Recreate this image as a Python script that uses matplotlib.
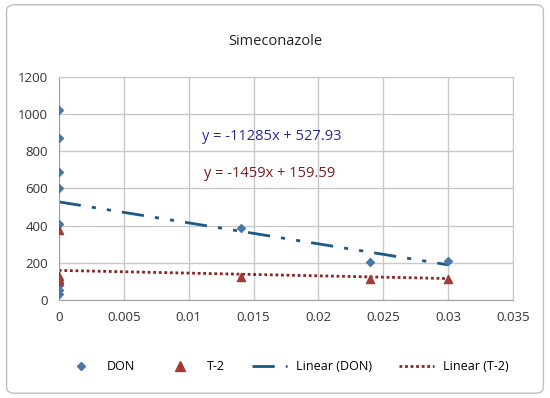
import matplotlib
matplotlib.use("Agg")
import matplotlib.pyplot as plt
from matplotlib.patches import FancyBboxPatch
from matplotlib.lines import Line2D
import numpy as np

plt.rcParams['font.family'] = ['Open Sans', 'DejaVu Sans']

don_x = [0, 0, 0, 0, 0, 0, 0, 0, 0.014, 0.024, 0.030]
don_y = [1020, 870, 690, 605, 410, 80, 55, 35, 385, 205, 212]
t2_x = [0, 0, 0, 0, 0.014, 0.024, 0.030]
t2_y = [375, 130, 115, 100, 124, 114, 114]
don_fit = (-11285, 527.93)
t2_fit = (-1459, 159.59)
fit_range = [0, 0.030]
x_ticks = [0, 0.005, 0.01, 0.015, 0.02, 0.025, 0.03, 0.035]
x_labels = ["0", "0.005", "0.01", "0.015", "0.02", "0.025", "0.03", "0.035"]
y_ticks = [0, 200, 400, 600, 800, 1000, 1200]

fig = plt.figure(figsize=(5.5, 3.98), dpi=100)
fig.patches.append(FancyBboxPatch((0.012, 0.012), 0.976, 0.976, boxstyle="round,pad=0,rounding_size=0.015",
                                  transform=fig.transFigure, fill=False, edgecolor="#bfbfbf", linewidth=1))
ax = fig.add_axes([0.107, 0.246, 0.826, 0.561])

don_c = "#4677a8"
t2_c = "#a33a35"
ax.scatter(don_x, don_y, marker="D", s=16, color=don_c, zorder=3)
ax.scatter(t2_x, t2_y, marker="^", s=34, color=t2_c, zorder=3)
fx = np.array(fit_range)
ax.plot(fx, don_fit[0] * fx + don_fit[1], color="#1c5a85", linewidth=2, dashes=(8, 4, 1.5, 4, 1.5, 4), zorder=2)
ax.plot(fx, t2_fit[0] * fx + t2_fit[1], color="#8b2323", linewidth=2, dashes=(1, 1), zorder=2)

ax.set_xlim(0, 0.035)
ax.set_ylim(0, 1200)
ax.set_xticks(x_ticks)
ax.set_xticklabels(x_labels)
ax.set_yticks(y_ticks)
ax.grid(True, color="#c8c8c8", linewidth=1)
ax.set_axisbelow(True)
for s in ax.spines.values():
    s.set_color("#c8c8c8")
ax.spines['left'].set_color("#a0a0a0")
ax.spines['bottom'].set_color("#a0a0a0")
ax.tick_params(length=0, labelsize=9.5, colors="#333333", pad=8)

fig.text(0.5, 0.895, "Simeconazole", ha="center", va="center", fontsize=10.5, color="#222222")
ax.text(0.0164, 881, "y = -11285x + 527.93", ha="center", va="center", fontsize=10.5, color="#2a2a8c")
ax.text(0.0162, 681, "y = -1459x + 159.59", ha="center", va="center", fontsize=10.5, color="#7a1f1f")

handles = [
    Line2D([], [], linestyle="none", marker="D", markersize=4.5, color=don_c),
    Line2D([], [], linestyle="none", marker="^", markersize=7, color=t2_c),
    Line2D([], [], color="#1c5a85", linewidth=2, dashes=(8, 4, 1.5, 4, 1.5, 4)),
    Line2D([], [], color="#8b2323", linewidth=2, dashes=(1, 1)),
]
labels = ["DON", "T-2", "Linear (DON)", "Linear (T-2)"]
fig.legend(handles, labels, loc="center", bbox_to_anchor=(0.52, 0.078), ncol=4, frameon=False,
           fontsize=9, handlelength=2.8, columnspacing=2.2, handletextpad=0.7)

fig.savefig("out.png", dpi=100)
